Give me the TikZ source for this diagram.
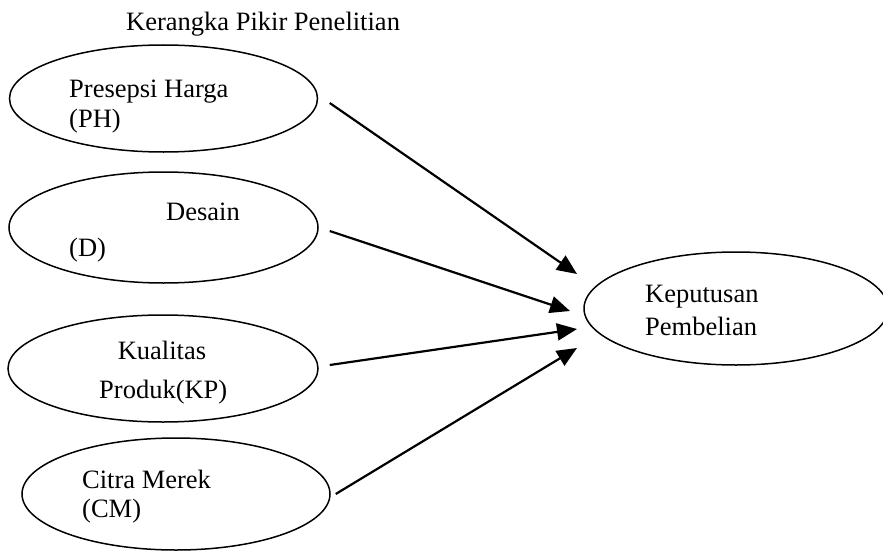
\documentclass[tikz,border=0pt]{standalone}
\usepackage{fontspec}
\setmainfont{Liberation Serif}
\usetikzlibrary{shapes.geometric,arrows.meta}
\begin{document}
\begin{tikzpicture}[x=1pt,y=-1pt,
  ell/.style={draw,ellipse,line width=1.5pt,inner sep=0pt},
  txt/.style={inner sep=0pt,font=\fontsize{26.5}{30}\selectfont},
  arr/.style={line width=2.2pt,-{Triangle[length=20pt,width=17pt]}}]
\useasboundingbox (0,0) rectangle (883,551);
\node[txt,anchor=base west] (title) at (126,31) {Kerangka Pikir Penelitian};
% ellipses
\node[ell,minimum width=308pt,minimum height=107pt] (ph) at (163.5,98.5) {};
\node[ell,minimum width=309pt,minimum height=111pt] (d) at (163.5,227.5) {};
\node[ell,minimum width=310pt,minimum height=107pt] (kp) at (163,368.5) {};
\node[ell,minimum width=308pt,minimum height=112pt] (cm) at (176,494) {};
\node[ell,minimum width=304pt,minimum height=113pt] (kep) at (736,308.5) {};
% texts
\node[txt,anchor=base west] (ph1) at (69,97) {Presepsi Harga};
\node[txt,anchor=base west] (ph2) at (69,127) {(PH)};
\node[txt,anchor=base west] (d1) at (166,220) {Desain};
\node[txt,anchor=base west] (d2) at (69,256) {(D)};
\node[txt,anchor=base] (kp1) at (162,359) {Kualitas};
\node[txt,anchor=base west] (kp2) at (99,398) {Produk(KP)};
\node[txt,anchor=base west] (cm1) at (82,488) {Citra Merek};
\node[txt,anchor=base west] (cm2) at (82,517) {(CM)};
\node[txt,anchor=base west] (kep1) at (645,302) {Keputusan};
\node[txt,anchor=base west] (kep2) at (645,335) {Pembelian};
% arrow tips
\coordinate (t1) at (577,274);
\coordinate (t2) at (570,311);
\coordinate (t3) at (577,329);
\coordinate (t4) at (577,348);
\draw[arr] ([shift={(11.5,4.5)}]ph.east) -- (t1);
\draw[arr] ([shift={(11,3.5)}]d.east) -- (t2);
\draw[arr] ([shift={(11,-3.5)}]kp.east) -- (t3);
\draw[arr] ([shift={(5,0)}]cm.east) -- (t4);
\end{tikzpicture}
\end{document}
